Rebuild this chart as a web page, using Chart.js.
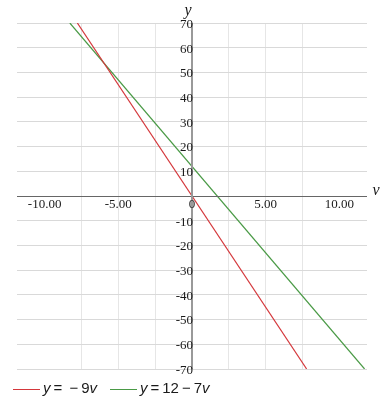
<!DOCTYPE html>
<html>
<head>
<meta charset="utf-8">
<script src="https://cdn.jsdelivr.net/npm/chart.js@4"></script>
<style>
  html, body { margin: 0; padding: 0; background: #fff; }
  #wrap { width: 384px; height: 408px; }
</style>
</head>
<body>
<div id="wrap"><canvas id="plot"></canvas></div>
<script>
// line endpoints (clipped at y = ±70)
const redV = [-7.78, 7.78];
const redY = [70, -70];
const greenV = [-8.29, 11.71];
const greenY = [70, -70];

const xTickVals = [-10, -5, 0, 5, 10];
const xTickText = ['-10.00', '-5.00', '0', '5.00', '10.00'];
const yTickVals = [70, 60, 50, 40, 30, 20, 10, -10, -20, -30, -40, -50, -60, -70];
const yTickText = ['70', '60', '50', '40', '30', '20', '10', '-10', '-20', '-30', '-40', '-50', '-60', '-70'];

const RED = '#d4373b';
const GREEN = '#4a9a46';

const pts = (xs, ys) => xs.map((x, i) => ({ x: x, y: ys[i] }));

// axes through the origin, tick labels, axis names and legend
const overlay = {
  id: 'overlay',
  afterDraw(chart) {
    const { ctx, scales: { x, y } } = chart;
    const x0 = x.getPixelForValue(0);
    const y0 = y.getPixelForValue(0);
    ctx.save();
    // x axis
    ctx.strokeStyle = '#666';
    ctx.lineWidth = 1;
    ctx.beginPath();
    ctx.moveTo(x.left, Math.round(y0) + 0.5);
    ctx.lineTo(x.right, Math.round(y0) + 0.5);
    ctx.stroke();
    // y axis
    ctx.strokeStyle = '#999';
    ctx.lineWidth = 2;
    ctx.beginPath();
    ctx.moveTo(Math.round(x0), y.top);
    ctx.lineTo(Math.round(x0), y.bottom);
    ctx.stroke();

    ctx.fillStyle = '#1a1a1a';
    ctx.font = '13px "Liberation Serif"';
    ctx.textAlign = 'center';
    ctx.textBaseline = 'top';
    xTickVals.forEach((v, i) => {
      ctx.fillText(xTickText[i], x.getPixelForValue(v), y0 + 2);
    });
    ctx.textAlign = 'right';
    ctx.textBaseline = 'middle';
    yTickVals.forEach((v, i) => {
      ctx.fillText(yTickText[i], x0 + 1, y.getPixelForValue(v) + 1.5);
    });

    ctx.font = 'italic 16px "Liberation Serif"';
    ctx.textAlign = 'center';
    ctx.fillText('y', x0 - 4, y.top - 12);
    ctx.fillText('v', x.right + 9, y0 - 5);

    // legend
    const ly = 389;
    const item = (x1, col, parts) => {
      ctx.strokeStyle = col;
      ctx.lineWidth = 1;
      ctx.beginPath();
      ctx.moveTo(x1, ly + 0.5);
      ctx.lineTo(x1 + 27, ly + 0.5);
      ctx.stroke();
      let cx = x1 + 30;
      ctx.textAlign = 'left';
      ctx.fillStyle = '#1a1a1a';
      parts.forEach(([t, it]) => {
        ctx.font = (it ? 'italic ' : '') + '15px "Liberation Sans"';
        ctx.fillText(t, cx, ly);
        cx += ctx.measureText(t).width;
      });
    };
    item(13, RED, [['y', 1], ['\u2009=\u2009 \u2212\u20099', 0], ['v', 1]]);
    item(110, GREEN, [['y', 1], ['\u2009=\u200912\u2009\u2212\u20097', 0], ['v', 1]]);
    ctx.restore();
  }
};

new Chart(document.getElementById('plot'), {
  type: 'scatter',
  data: {
    datasets: [
      { label: 'y = -9v', data: pts(redV, redY), showLine: true, borderColor: RED, borderWidth: 1.2, pointRadius: 0 },
      { label: 'y = 12 - 7v', data: pts(greenV, greenY), showLine: true, borderColor: GREEN, borderWidth: 1.2, pointRadius: 0 }
    ]
  },
  options: {
    responsive: true,
    maintainAspectRatio: false,
    animation: false,
    layout: { padding: { left: 17, right: 17, top: 23, bottom: 39 } },
    plugins: { legend: { display: false }, tooltip: { enabled: false } },
    scales: {
      x: {
        type: 'linear', min: -11.875, max: 11.875,
        ticks: { display: false, stepSize: 2.5 },
        grid: {
          drawTicks: false,
          color: c => (c.tick && Math.abs(c.tick.value) > 11) ? 'rgba(0,0,0,0)' : '#e6e6e6'
        },
        border: { display: false }
      },
      y: {
        type: 'linear', min: -70, max: 70,
        ticks: { display: false, stepSize: 10 },
        grid: { color: '#d9d9d9', drawTicks: false },
        border: { display: false }
      }
    }
  },
  plugins: [overlay]
});
</script>
</body>
</html>
